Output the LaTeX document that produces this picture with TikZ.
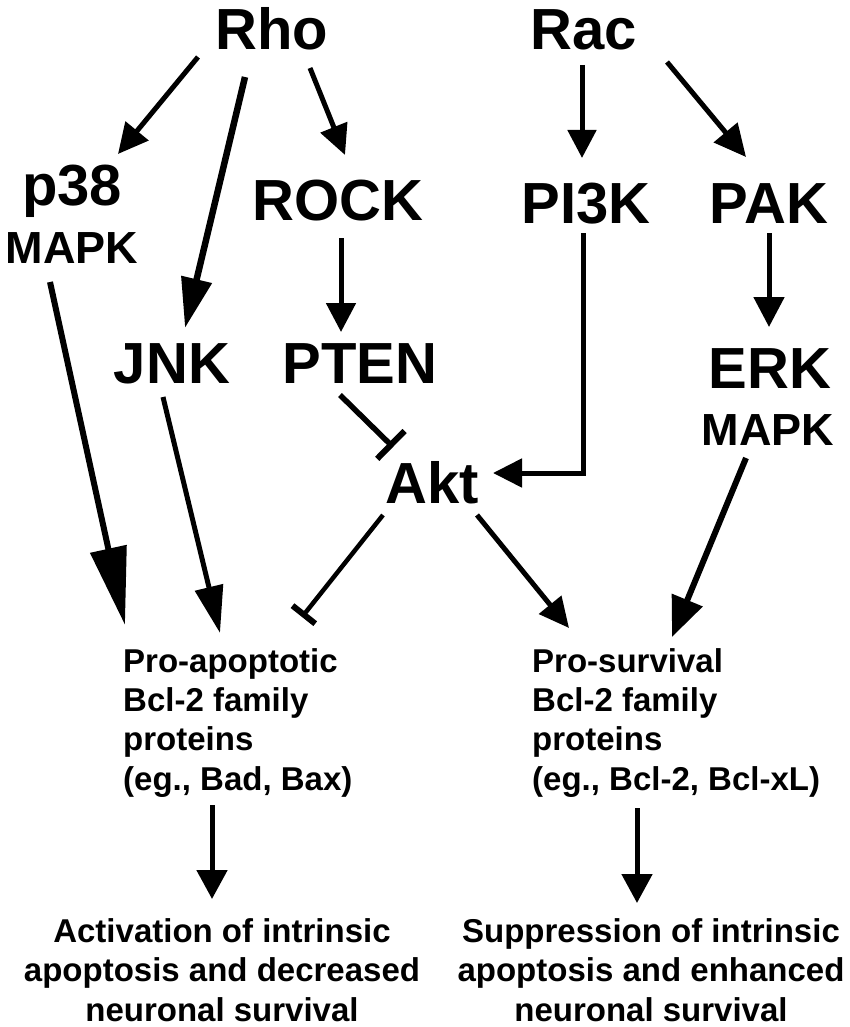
\documentclass[tikz,border=0pt]{standalone}
\usepackage{fontspec}
\setmainfont{Liberation Sans}
\usetikzlibrary{arrows.meta}
\begin{document}
\begin{tikzpicture}[x=1pt,y=-1pt,
  big/.style={font=\fontsize{58}{58}\selectfont\bfseries, inner sep=0pt, anchor=base},
  sublbl/.style={font=\fontsize{45}{45}\selectfont\bfseries, inner sep=0pt, anchor=base},
  midtxt/.style={font=\fontsize{33}{39.3}\selectfont\bfseries, inner sep=0pt, anchor=base west, align=left},
  outtxt/.style={font=\fontsize{33}{39.5}\selectfont\bfseries, inner sep=0pt, anchor=base, align=center},
  act/.style={line width=5pt, -{Triangle[length=#1]}},
  act/.default={30pt,width=29pt},
  inh/.style={line width=5pt, -{Bar[width=#1,line width=6pt]}},
]
\useasboundingbox (0,0) rectangle (850,1027);

% nodes (multi-line nodes are placed by the baseline of their last line)
\node[big] (rho) at (272,50) {Rho};
\node[big] (rac) at (584,50) {Rac};
\node[big] (p38) at (72,205) {p38};
\node[sublbl] (p38m) at (72,263) {MAPK};
\node[big] (rock) at (338,220) {ROCK};
\node[big] (pi3k) at (586,223) {PI3K};
\node[big] (pak) at (769,223) {PAK};
\node[big] (jnk) at (172,383) {JNK};
\node[big] (pten) at (360,383) {PTEN};
\node[big] (erk) at (770,388) {ERK};
\node[sublbl] (erkm) at (768,445) {MAPK};
\node[big] (akt) at (432,503) {Akt};
\node[midtxt] (proa) at (123,790) {Pro-apoptotic\\Bcl-2 family\\proteins\\(eg., Bad, Bax)};
\node[midtxt] (pros) at (532,790) {Pro-survival\\Bcl-2 family\\proteins\\(eg., Bcl-2, Bcl-xL)};
\node[outtxt] (outa) at (222,1021) {Activation of intrinsic\\apoptosis and decreased\\neuronal survival};
\node[outtxt] (outs) at (651,1021) {Suppression of intrinsic\\apoptosis and enhanced\\neuronal survival};

% connectors
\draw[act={30pt,width=29pt}] ([shift={(-74,7)}]rho.base) -- ([shift={(46,-51)}]p38.base);
\draw[act={50pt,width=30pt}, line width=6.5pt] ([shift={(-27,27)}]rho.base) -- ([shift={(13,-55)}]jnk.base);
\draw[act={30pt,width=28pt}] ([shift={(38,18)}]rho.base) -- ([shift={(7,-65)}]rock.base);
\draw[act={29pt,width=29pt}] ([shift={(3,18)}]rock.base) -- ([shift={(-19,-51)}]pten.base);
\draw[act={28pt,width=28pt}] ([shift={(-2,15)}]rac.base) -- ([shift={(-4,-65)}]pi3k.base);
\draw[act={32pt,width=30pt}] ([shift={(83,12)}]rac.base) -- ([shift={(-23,-66)}]pak.base);
\draw[act={30pt,width=30pt}] ([shift={(0,10)}]pak.base) -- ([shift={(-1,-61)}]erk.base);
\draw[act={29pt,width=28pt}, line join=miter] ([shift={(-3,10)}]pi3k.base) |- ([shift={(61,-30)}]akt.base);
\draw[inh=39pt, line width=5.5pt] ([shift={(-20,12)}]pten.base) -- ([shift={(-39,-56)}]akt.base);
\draw[act={78pt,width=36pt}, line width=6pt] ([shift={(-22,19)}]p38m.base) -- ([shift={(2,-165)}]proa.base west);
\draw[act={47pt,width=28pt}] ([shift={(-9,14)}]jnk.base) -- ([shift={(97,-157)}]proa.base west);
\draw[inh=29pt, line width=4.5pt] ([shift={(-49,12)}]akt.base) -- ([shift={(179,-173)}]proa.base west);
\draw[act={30pt,width=28pt}] ([shift={(45,12)}]akt.base) -- ([shift={(37,-162)}]pros.base west);
\draw[act={40pt,width=32pt}, line width=6pt] ([shift={(-22,13)}]erkm.base) -- ([shift={(140,-153)}]pros.base west);
\draw[act={29pt,width=30pt}] ([shift={(89,15)}]proa.base west) -- ([shift={(-10,-122)}]outa.base);
\draw[act={29pt,width=30pt}] ([shift={(105,18)}]pros.base west) -- ([shift={(-14,-118)}]outs.base);
\end{tikzpicture}
\end{document}
